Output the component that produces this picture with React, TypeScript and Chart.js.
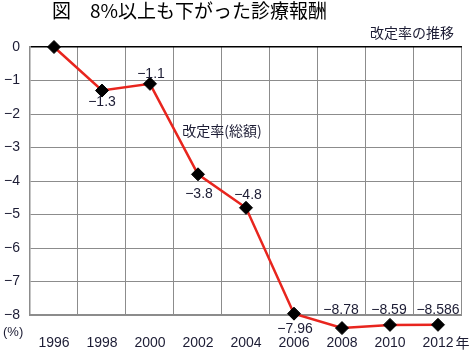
import React, { useEffect, useRef } from 'react';
import { Chart, registerables, LinearScale } from 'chart.js';

const years = ['1996', '1998', '2000', '2002', '2004', '2006', '2008', '2010', '2012'];
const revisionRate = [0, -1.3, -1.1, -3.8, -4.8, -7.96, -8.78, -8.59, -8.586];
const yMin = -8;
const yMax = 0;

const titleText = '図　8%以上も下がった診療報酬';
const subtitleText = '改定率の推移';
const seriesName = '改定率(総額)';
const unitText = '(%)';
const yearSuffix = '年';

const MINUS = '−';
const fmt = (v: number) => (v === 0 ? '0' : (v < 0 ? MINUS : '') + String(Math.abs(v)));

// Values below the axis floor are drawn in a compressed band under the plot (as in the printed chart)
class CompressedLinearScale extends LinearScale {
  static id = 'compressedLinear';
  static defaults = LinearScale.defaults;
  getPixelForValue(value: number, index?: number) {
    const floor = (this as any).min;
    if (value < floor) {
      const base = super.getPixelForValue(floor);
      const unit = super.getPixelForValue(floor - 1) - base;
      return base + (floor - value) * unit * 0.5;
    }
    return super.getPixelForValue(value);
  }
}

Chart.register(...registerables, CompressedLinearScale);

// label offsets (dx, dy) relative to each point
const labelOffsets: [number, number][] = [
  [0, 0], [0, 12], [1, -10], [1, 20], [2, -13], [1, 15], [-1, -18], [-1, -15], [0, -15],
];

const textColor = '#1c1c34';
const numFont = '"Liberation Sans", Arial, sans-serif';
const cjkFont = '"Noto Sans CJK JP", sans-serif';

// let markers below the axis floor be drawn (Chart.js skips points outside chartArea)
const expandAreaPlugin = {
  id: 'expandArea',
  beforeDatasetDraw(chart: any) {
    chart.$savedArea = chart.chartArea;
    chart.chartArea = { ...chart.chartArea, bottom: chart.chartArea.bottom + 40 };
  },
  afterDatasetDraw(chart: any) {
    if (chart.$savedArea) {
      chart.chartArea = chart.$savedArea;
      chart.$savedArea = null;
    }
  },
};

const annotatePlugin = {
  id: 'annotate',
  afterDatasetsDraw(chart: any) {
    const { ctx } = chart;
    const meta = chart.getDatasetMeta(0);
    ctx.save();
    ctx.fillStyle = textColor;
    ctx.font = `14px ${numFont}`;
    ctx.textAlign = 'center';
    ctx.textBaseline = 'middle';
    meta.data.forEach((pt: any, i: number) => {
      const v = revisionRate[i];
      if (v === 0) return;
      const [dx, dy] = labelOffsets[i];
      ctx.fillText(fmt(v), pt.x + dx, pt.y + dy);
    });
    ctx.restore();
  },
  afterDraw(chart: any) {
    const { ctx } = chart;
    const xScale = chart.scales.x;
    ctx.save();
    ctx.fillStyle = '#000';
    ctx.textBaseline = 'middle';
    ctx.textAlign = 'left';
    ctx.font = `19px ${cjkFont}`;
    ctx.fillText(titleText, 52, 11);

    ctx.fillStyle = textColor;
    ctx.font = `14px ${cjkFont}`;
    ctx.textAlign = 'right';
    ctx.fillText(subtitleText, 454, 33);

    ctx.textAlign = 'center';
    ctx.fillText(seriesName, 222, 131);

    ctx.textAlign = 'left';
    ctx.font = `13px ${numFont}`;
    ctx.fillText(unitText, 3, 332);

    const lastX = xScale.getPixelForTick(years.length - 1);
    ctx.font = `14px ${numFont}`;
    const w = ctx.measureText(years[years.length - 1]).width;
    ctx.font = `14px ${cjkFont}`;
    ctx.fillText(yearSuffix, lastX + w / 2 + 2, 343);
    ctx.restore();
  },
};

export default function App() {
  const ref = useRef<HTMLCanvasElement>(null);
  useEffect(() => {
    const chart = new Chart(ref.current as HTMLCanvasElement, {
      type: 'line',
      data: {
        labels: years,
        datasets: [
          {
            label: seriesName,
            data: revisionRate,
            borderColor: '#e8251e',
            borderWidth: 2.5,
            pointStyle: 'rectRot',
            pointRadius: 6.5,
            pointBackgroundColor: '#000',
            pointBorderColor: '#000',
            pointBorderWidth: 1,
            tension: 0,
            clip: false as any,
          },
        ],
      },
      options: {
        responsive: false,
        animation: false,
        devicePixelRatio: 1,
        layout: { padding: { top: 47, right: 8, left: 0, bottom: 0 } },
        plugins: {
          legend: { display: false },
          tooltip: { enabled: false },
          title: { display: false },
        },
        scales: {
          x: {
            type: 'category',
            offset: true,
            grid: { offset: true, color: '#8c8c8c', lineWidth: 1, drawTicks: false },
            border: { color: '#8c8c8c', width: 2 },
            ticks: {
              color: textColor,
              font: { family: numFont, size: 14 },
              padding: 20,
              maxRotation: 0,
              autoSkip: false,
            },
            afterFit: (s: any) => { s.height = 36; },
          },
          y: {
            type: 'compressedLinear' as any,
            min: yMin,
            max: yMax,
            grid: {
              color: (c: any) => (c.tick && c.tick.value === 0 ? '#000' : '#8c8c8c'),
              lineWidth: (c: any) => (c.tick && c.tick.value === 0 ? 1.5 : 1),
              drawTicks: false,
            },
            border: { color: '#8c8c8c', width: 1.5 },
            ticks: {
              stepSize: 1,
              color: textColor,
              font: { family: numFont, size: 14 },
              padding: 10,
              callback: (v: any) => fmt(Number(v)),
            },
            afterFit: (s: any) => { s.width = 30; },
          },
        },
      },
      plugins: [expandAreaPlugin, annotatePlugin],
    } as any);
    return () => chart.destroy();
  }, []);
  return (
    <div style={{ position: 'absolute', left: 0, top: 0, width: 474, height: 351, background: '#fff' }}>
      <canvas ref={ref} width={474} height={351} />
    </div>
  );
}
